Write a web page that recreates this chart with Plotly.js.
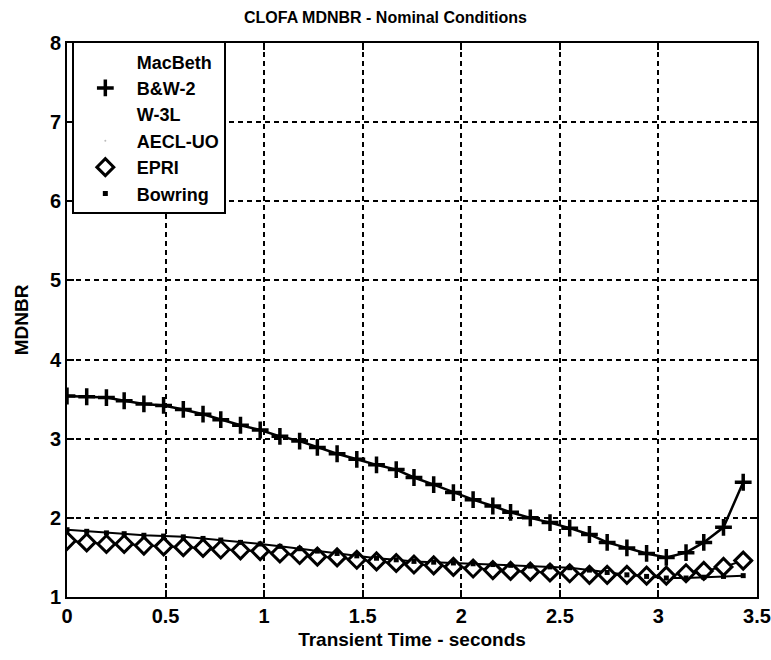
<!DOCTYPE html>
<html>
<head>
<meta charset="utf-8">
<script src="https://cdn.plot.ly/plotly-3.0.1.min.js"></script>
<style>html,body{margin:0;padding:0;background:#fff;}#chart{width:771px;height:660px;}</style>
</head>
<body>
<div id="chart"></div>
<script>
// Transient time (s) of each plotted point
var timeS = [0, 0.10, 0.20, 0.29, 0.39, 0.49, 0.59, 0.69, 0.78, 0.88, 0.98, 1.08, 1.18, 1.27, 1.37, 1.47, 1.57, 1.67,
             1.76, 1.86, 1.96, 2.06, 2.16, 2.25, 2.35, 2.45, 2.55, 2.65, 2.74, 2.84, 2.94, 3.04, 3.14, 3.23, 3.33, 3.43];
// MDNBR by correlation
var bw2 = [3.54, 3.53, 3.52, 3.48, 3.44, 3.42, 3.37, 3.31, 3.24, 3.17, 3.11, 3.03, 2.97, 2.89, 2.81, 2.74, 2.67, 2.61,
           2.51, 2.42, 2.32, 2.23, 2.15, 2.07, 2.00, 1.94, 1.87, 1.79, 1.69, 1.62, 1.55, 1.50, 1.56, 1.69, 1.88, 2.45];
var epri = [1.71, 1.69, 1.67, 1.67, 1.65, 1.64, 1.63, 1.62, 1.60, 1.59, 1.58, 1.55, 1.53, 1.51, 1.50, 1.47, 1.45, 1.43,
            1.41, 1.40, 1.38, 1.36, 1.34, 1.33, 1.32, 1.31, 1.30, 1.28, 1.28, 1.28, 1.27, 1.27, 1.30, 1.33, 1.38, 1.46];
var bowring = [1.85, 1.83, 1.81, 1.80, 1.78, 1.77, 1.76, 1.74, 1.72, 1.69, 1.67, 1.64, 1.61, 1.58, 1.55, 1.52, 1.49, 1.47,
               1.45, 1.44, 1.43, 1.42, 1.41, 1.40, 1.39, 1.38, 1.37, 1.34, 1.31, 1.28, 1.26, 1.24, 1.24, 1.25, 1.26, 1.27];
// Curves not legible in the reference scan (only their legend labels remain)
var macbeth = [null], w3l = [null], aeclUo = [null];

var xTicks = [0, 0.5, 1, 1.5, 2, 2.5, 3, 3.5];
var xTickText = ['0', '0.5', '1', '1.5', '2', '2.5', '3', '3.5'];
var yTicks = [1, 2, 3, 4, 5, 6, 7, 8];

var FONT = 'Liberation Sans Narrow, Arial Narrow, Liberation Sans, Arial, sans-serif';

var traces = [
  // lines (no legend)
  {x: timeS, y: bowring, mode: 'lines', line: {color: '#000', width: 2}, showlegend: false, hoverinfo: 'skip'},
  {x: timeS, y: epri, mode: 'lines', line: {color: '#000', width: 2}, showlegend: false, hoverinfo: 'skip'},
  {x: timeS, y: bw2, mode: 'lines', line: {color: '#000', width: 2.5}, showlegend: false, hoverinfo: 'skip'},
  // legend + markers
  {x: macbeth, y: macbeth, name: 'MacBeth', mode: 'markers', marker: {color: 'rgba(0,0,0,0)', size: 6}},
  {x: timeS, y: bw2, name: 'B&W-2', mode: 'markers',
   marker: {symbol: 'cross-thin', size: 12, color: '#000', line: {color: '#000', width: 3.5}}},
  {x: w3l, y: w3l, name: 'W-3L', mode: 'markers', marker: {color: 'rgba(0,0,0,0)', size: 6}},
  {x: aeclUo, y: aeclUo, name: 'AECL-UO', mode: 'markers', marker: {color: '#bbb', size: 2}},
  {x: timeS, y: epri, name: 'EPRI', mode: 'markers',
   marker: {symbol: 'diamond', size: 13, color: '#fff', line: {color: '#000', width: 3}}},
  {x: timeS, y: bowring, name: 'Bowring', mode: 'markers',
   marker: {symbol: 'square', size: 5, color: '#000'}}
];

var layout = {
  width: 771, height: 660,
  margin: {l: 67, r: 14, t: 43, b: 63},
  paper_bgcolor: '#fff', plot_bgcolor: '#fff',
  font: {family: FONT, color: '#000', size: 17},
  title: {text: 'CLOFA MDNBR - Nominal Conditions', x: 0.5, xref: 'container', y: 0.973, yanchor: 'middle',
          font: {family: FONT, size: 16, color: '#000', weight: 'bold'}},
  xaxis: {
    range: [0, 3.5], tickvals: xTicks, ticktext: xTickText,
    showgrid: true, gridcolor: '#000', gridwidth: 2, griddash: '5px,4px',
    zeroline: false, showline: true, linecolor: '#000', linewidth: 2, mirror: 'ticks',
    ticks: 'inside', ticklen: 7, tickwidth: 2, tickcolor: '#000',
    tickfont: {family: FONT, size: 20, color: '#000', weight: 'bold'},
    title: {text: 'Transient Time - seconds', standoff: 7, font: {family: FONT, size: 19, color: '#000', weight: 'bold'}}
  },
  yaxis: {
    range: [1, 8], tickvals: yTicks,
    showgrid: true, gridcolor: '#000', gridwidth: 2, griddash: '5px,4px',
    zeroline: false, showline: true, linecolor: '#000', linewidth: 2, mirror: 'ticks',
    ticks: 'inside', ticklen: 7, tickwidth: 2, tickcolor: '#000',
    tickfont: {family: FONT, size: 20, color: '#000', weight: 'bold'},
    title: {text: 'MDNBR', standoff: 16, font: {family: FONT, size: 19, color: '#000', weight: 'bold'}}
  },
  legend: {
    x: 0.007, y: 1.003, xanchor: 'left', yanchor: 'top',
    bgcolor: '#fff', bordercolor: '#000', borderwidth: 2,
    font: {family: FONT, size: 18, color: '#000', weight: 'bold'},
    tracegroupgap: 0, itemwidth: 53, entrywidth: 132
  },
  showlegend: true
};

Plotly.newPlot('chart', traces, layout, {staticPlot: true, displayModeBar: false});
</script>
</body>
</html>
